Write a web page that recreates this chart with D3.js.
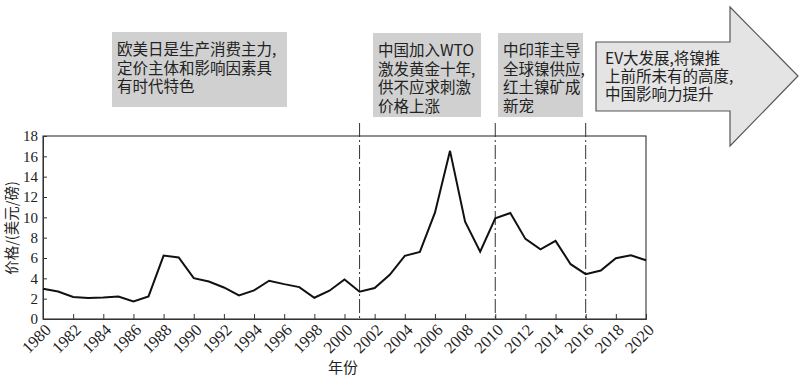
<!DOCTYPE html>
<html><head><meta charset="utf-8">
<script src="https://cdn.jsdelivr.net/npm/d3@7"></script>
<style>body{margin:0;background:#fff}svg{display:block}</style>
</head><body>
<svg id="c" width="800" height="379"></svg>
<script>
const years = d3.range(1980, 2021);
const prices = [2.97,2.7,2.16,2.06,2.12,2.22,1.73,2.22,6.24,6.05,4.02,3.69,3.1,2.32,2.81,3.76,3.43,3.14,2.09,2.78,3.89,2.68,3.04,4.35,6.21,6.6,10.46,16.54,9.58,6.63,9.9,10.42,7.88,6.86,7.68,5.39,4.41,4.77,5.98,6.27,5.78];
const yTicks = [0,2,4,6,8,10,12,14,16,18];
const xTicks = d3.range(1980, 2021, 2);
const markerYears = [2001, 2010, 2016];
const boxTexts = [
  ["欧美日是生产消费主力,", "定价主体和影响因素具", "有时代特色"],
  ["中国加入WTO", "激发黄金十年,", "供不应求刺激", "价格上涨"],
  ["中印菲主导", "全球镍供应,", "红土镍矿成", "新宠"]
];
const arrowText = ["EV大发展,将镍推", "上前所未有的高度,", "中国影响力提升"];
const xLabel = "年份";
const yLabel = "价格/(美元/磅)";

const svg = d3.select("#c");
const L = 43, R = 646, T = 136, B = 319;
const x = d3.scaleLinear().domain([1980, 2020]).range([L, R]);
const y = d3.scaleLinear().domain([0, 18]).range([B, T]);
const serif = "'Liberation Serif','Times New Roman',serif";
const cjk = "'Noto Sans CJK SC',sans-serif";

svg.append("rect").attr("x", L).attr("y", T).attr("width", R - L).attr("height", B - T)
  .attr("fill", "none").attr("stroke", "#333").attr("stroke-width", 1.1);

const ya = svg.append("g").attr("transform", `translate(${L},0)`)
  .call(d3.axisLeft(y).tickValues(yTicks).tickSize(-4).tickFormat(""));
ya.select(".domain").attr("stroke", "#333");
ya.selectAll(".tick line").attr("stroke", "#333");
svg.append("g").selectAll("text").data(yTicks).enter().append("text")
  .attr("x", L - 5).attr("y", d => y(d)).attr("dy", "0.35em")
  .attr("text-anchor", "end").attr("font-family", serif).attr("font-size", 15).attr("fill", "#222")
  .text(d => d);

const xa = svg.append("g").attr("transform", `translate(0,${B})`)
  .call(d3.axisBottom(x).tickValues(xTicks).tickSize(-5).tickFormat(""));
xa.select(".domain").attr("stroke", "#333");
xa.selectAll(".tick line").attr("stroke", "#333");
svg.append("g").selectAll("text").data(xTicks).enter().append("text")
  .attr("transform", d => `translate(${x(d) + 9},${B + 12}) rotate(-45)`)
  .attr("text-anchor", "end").attr("font-family", serif).attr("font-size", 16.5).attr("fill", "#222")
  .text(d => d);

svg.selectAll(".mk").data(markerYears).enter().append("line")
  .attr("x1", d => x(d)).attr("x2", d => x(d)).attr("y1", 123).attr("y2", B)
  .attr("stroke", "#333").attr("stroke-width", 1).attr("stroke-dasharray", "14,3,2,3");

svg.append("path").datum(prices)
  .attr("d", d3.line().x((d, i) => x(years[i])).y(d => y(d)))
  .attr("fill", "none").attr("stroke", "#111").attr("stroke-width", 2);

svg.append("text").attr("x", 343).attr("y", 373).attr("text-anchor", "middle")
  .attr("font-family", cjk).attr("font-size", 15).attr("fill", "#222").text(xLabel);
svg.append("text").attr("transform", "translate(17,228) rotate(-90)").attr("text-anchor", "middle")
  .attr("font-family", cjk).attr("font-size", 14.5).attr("fill", "#222").text(yLabel);

const boxes = [
  {x0: 112, x1: 287, y0: 32, y1: 107},
  {x0: 373, x1: 481, y0: 33, y1: 117},
  {x0: 498, x1: 583, y0: 33, y1: 117}
];
boxes.forEach((b, i) => {
  svg.append("rect").attr("x", b.x0).attr("y", b.y0).attr("width", b.x1 - b.x0).attr("height", b.y1 - b.y0)
    .attr("fill", "#d0d0d0");
  const t = svg.append("text").attr("font-family", cjk).attr("font-size", 15.5).attr("fill", "#222");
  boxTexts[i].forEach((s, j) => {
    t.append("tspan").attr("x", b.x0 + 5).attr("y", b.y0 + 23 + j * 18.6).text(s);
  });
});

const ap = [[596,42],[730,42],[730,7],[798,76],[730,146],[730,111],[596,111]];
svg.append("path").attr("d", d3.line()(ap) + "Z").attr("fill", "#e4e4e4").attr("stroke", "#555").attr("stroke-width", 1.2);
const at = svg.append("text").attr("font-family", cjk).attr("font-size", 15.5).attr("fill", "#222");
arrowText.forEach((s, j) => {
  at.append("tspan").attr("x", 605).attr("y", 64 + j * 18).text(s);
});
</script>
</body></html>
